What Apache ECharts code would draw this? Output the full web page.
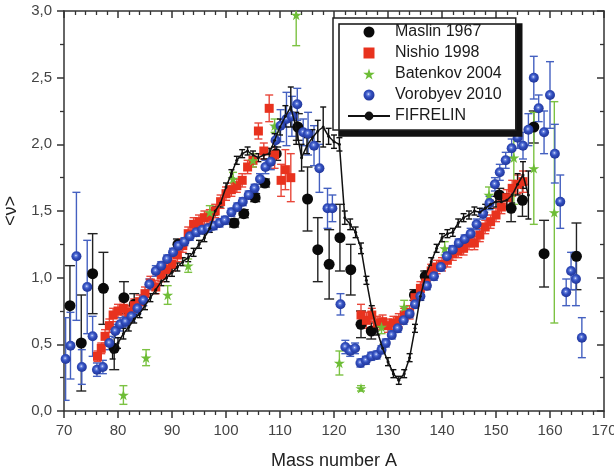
<!DOCTYPE html>
<html>
<head>
<meta charset="utf-8">
<script src="https://cdn.jsdelivr.net/npm/echarts@6/dist/echarts.min.js"></script>
<style>
  html, body { margin: 0; padding: 0; background: #fff; }
  #chart { width: 614px; height: 469px; }
</style>
</head>
<body>
<div id="chart"></div>
<script>
// each point: [mass number A, <nu>, error]
const maslin = [
  [71.1, 0.79, 0.30], [73.2, 0.51, 0.36], [75.3, 1.03, 0.30], [77.3, 0.92, 0.27],
  [79.3, 0.47, 0.16], [81.1, 0.85, 0.12], [83.0, 0.80, 0.08], [91.1, 1.25, 0.04],
  [101.5, 1.41, 0.03], [103.3, 1.48, 0.03], [105.4, 1.60, 0.03], [107.2, 1.71, 0.03],
  [109.3, 1.93, 0.05], [113.3, 2.13, 0.10], [115.1, 1.59, 0.24], [117.0, 1.21, 0.24],
  [119.1, 1.10, 0.26], [121.1, 1.30, 0.25], [123.1, 1.06, 0.19], [125.0, 0.65, 0.10],
  [126.9, 0.60, 0.06], [134.9, 0.87, 0.04], [136.9, 1.01, 0.04], [150.6, 1.62, 0.05],
  [152.8, 1.52, 0.10], [154.9, 1.58, 0.12], [157.0, 2.13, 0.12], [158.9, 1.18, 0.25],
  [164.9, 1.16, 0.25]
];
const nishio = [
  [76.2, 0.41, 0.04], [76.9, 0.47, 0.04], [77.6, 0.56, 0.05], [78.4, 0.64, 0.05],
  [79.1, 0.72, 0.05], [80.0, 0.75, 0.05], [81.0, 0.77, 0.05], [82.0, 0.74, 0.05],
  [83.0, 0.79, 0.05], [84.0, 0.82, 0.05], [85.0, 0.88, 0.05], [86.0, 0.96, 0.05],
  [87.0, 0.93, 0.05], [88.0, 1.02, 0.05], [89.0, 1.06, 0.05], [90.0, 1.10, 0.05],
  [91.0, 1.17, 0.05], [92.0, 1.24, 0.05], [93.0, 1.33, 0.05], [94.0, 1.40, 0.05],
  [95.0, 1.42, 0.05], [96.0, 1.45, 0.05], [97.0, 1.46, 0.05], [98.0, 1.50, 0.05],
  [99.0, 1.57, 0.05], [100.0, 1.63, 0.05], [101.0, 1.66, 0.05], [102.0, 1.69, 0.05],
  [103.0, 1.73, 0.05], [104.0, 1.83, 0.05], [105.0, 1.88, 0.05], [106.0, 2.10, 0.06],
  [107.0, 1.95, 0.06], [108.0, 2.27, 0.10], [109.0, 1.92, 0.10], [110.2, 1.73, 0.12],
  [111.0, 1.81, 0.15], [112.0, 1.75, 0.18],
  [125.0, 0.72, 0.08], [126.0, 0.68, 0.06], [127.0, 0.72, 0.05], [128.0, 0.66, 0.05],
  [129.0, 0.67, 0.05], [130.0, 0.64, 0.05], [131.0, 0.66, 0.05], [132.0, 0.68, 0.05],
  [133.0, 0.72, 0.05], [134.0, 0.74, 0.05], [135.0, 0.85, 0.05], [136.0, 0.92, 0.05],
  [137.0, 0.96, 0.05], [138.0, 1.05, 0.05], [139.0, 1.08, 0.05], [140.0, 1.10, 0.05],
  [141.0, 1.13, 0.05], [142.0, 1.18, 0.05], [143.0, 1.20, 0.05], [144.0, 1.22, 0.05],
  [145.0, 1.26, 0.05], [146.0, 1.26, 0.05], [147.0, 1.32, 0.05], [148.0, 1.38, 0.05],
  [149.0, 1.42, 0.05], [150.0, 1.47, 0.05], [151.0, 1.53, 0.05], [152.0, 1.60, 0.06],
  [153.0, 1.67, 0.06], [154.0, 1.70, 0.07], [155.0, 1.72, 0.08]
];
const batenkov = [
  [81.0, 0.12, 0.07], [85.2, 0.40, 0.06], [89.2, 0.87, 0.07], [93.0, 1.09, 0.05],
  [97.0, 1.49, 0.05], [101.3, 1.74, 0.05], [105.0, 1.88, 0.05], [109.0, 2.14, 0.05],
  [113.0, 2.97, 0.23], [121.0, 0.36, 0.09], [125.0, 0.17, 0.02], [128.8, 0.63, 0.05],
  [133.0, 0.78, 0.05], [140.5, 1.22, 0.05], [148.7, 1.62, 0.06], [153.3, 1.90, 0.35],
  [157.0, 1.82, 0.42], [160.8, 1.49, 0.83]
];
const vorobyev = [
  [70.3, 0.39, 0.31], [71.2, 0.49, 0.25], [72.3, 1.16, 0.48], [73.3, 0.33, 0.13],
  [74.3, 0.93, 0.35], [75.3, 0.56, 0.15], [76.1, 0.31, 0.05], [77.2, 0.33, 0.05],
  [78.4, 0.51, 0.05], [79.5, 0.60, 0.05], [80.4, 0.65, 0.05], [81.4, 0.67, 0.04],
  [82.5, 0.71, 0.04], [83.6, 0.77, 0.04], [84.7, 0.83, 0.04], [85.8, 0.95, 0.04],
  [87.0, 1.05, 0.04], [88.0, 1.09, 0.03], [89.1, 1.14, 0.03], [90.2, 1.19, 0.03],
  [91.2, 1.24, 0.03], [92.3, 1.27, 0.03], [93.3, 1.31, 0.03], [94.5, 1.34, 0.03],
  [95.6, 1.36, 0.03], [96.7, 1.37, 0.03], [97.7, 1.39, 0.03], [98.8, 1.41, 0.03],
  [99.8, 1.43, 0.03], [101.0, 1.49, 0.03], [102.1, 1.53, 0.03], [103.1, 1.57, 0.03],
  [104.2, 1.62, 0.03], [105.3, 1.67, 0.03], [106.3, 1.74, 0.04], [107.3, 1.83, 0.05],
  [108.3, 1.87, 0.06], [109.2, 2.03, 0.10], [110.1, 2.14, 0.12], [111.2, 2.19, 0.20],
  [112.2, 2.21, 0.15], [113.2, 2.30, 0.12], [114.3, 2.09, 0.10], [115.2, 2.08, 0.16],
  [116.3, 1.99, 0.15], [117.3, 1.82, 0.18], [118.8, 1.52, 0.15], [119.7, 1.52, 0.10],
  [121.2, 0.80, 0.08], [122.1, 0.48, 0.05], [123.0, 0.45, 0.04], [123.9, 0.47, 0.04],
  [124.9, 0.36, 0.03], [125.9, 0.38, 0.03], [126.9, 0.41, 0.03], [127.9, 0.42, 0.03],
  [128.8, 0.46, 0.03], [129.6, 0.51, 0.03], [130.7, 0.57, 0.03], [131.8, 0.62, 0.03],
  [132.9, 0.68, 0.03], [134.0, 0.73, 0.03], [135.0, 0.80, 0.03], [136.0, 0.86, 0.03],
  [137.2, 0.94, 0.03], [138.5, 1.01, 0.03], [139.8, 1.08, 0.03], [140.9, 1.16, 0.03],
  [142.0, 1.21, 0.03], [143.1, 1.26, 0.03], [144.2, 1.29, 0.03], [145.3, 1.33, 0.04],
  [146.4, 1.40, 0.04], [147.6, 1.48, 0.04], [148.8, 1.56, 0.05], [149.8, 1.70, 0.05],
  [150.7, 1.79, 0.06], [151.8, 1.88, 0.06], [152.9, 1.97, 0.07], [154.0, 2.05, 0.08],
  [155.0, 1.99, 0.10], [156.0, 2.11, 0.12], [157.0, 2.50, 0.16], [157.9, 2.27, 0.10],
  [158.9, 2.09, 0.16], [160.0, 2.37, 0.25], [160.9, 1.93, 0.22], [161.9, 1.57, 0.20],
  [163.0, 0.89, 0.10], [163.9, 1.05, 0.14], [164.8, 0.99, 0.20], [165.9, 0.55, 0.15]
];
const fifrelin = [
  [79, 0.44, 0.05], [80, 0.51, 0.04], [81, 0.58, 0.04], [82, 0.63, 0.03], [83, 0.69, 0.03],
  [84, 0.73, 0.03], [85, 0.79, 0.03], [86, 0.85, 0.03], [87, 0.91, 0.03], [88, 0.97, 0.03],
  [89, 1.00, 0.03], [90, 1.04, 0.03], [91, 1.08, 0.03], [92, 1.12, 0.03], [93, 1.15, 0.03],
  [94, 1.19, 0.03], [95, 1.25, 0.03], [96, 1.30, 0.03], [97, 1.37, 0.03], [98, 1.50, 0.03],
  [99, 1.56, 0.03], [100, 1.68, 0.03], [101, 1.78, 0.03], [102, 1.88, 0.03], [103, 1.93, 0.03],
  [104, 1.95, 0.03], [105, 1.92, 0.03], [106, 1.90, 0.03], [107, 1.92, 0.03], [108, 1.93, 0.04],
  [109, 2.03, 0.05], [110, 2.13, 0.06], [111, 2.21, 0.08], [112, 2.28, 0.15], [113, 2.12, 0.12],
  [114, 1.90, 0.10], [115, 1.99, 0.06], [116, 2.05, 0.06], [117, 2.10, 0.08], [118, 2.13, 0.15],
  [119, 2.06, 0.06], [120, 2.02, 0.05], [121, 2.00, 0.05], [122, 1.45, 0.05], [123, 1.40, 0.04],
  [124, 1.34, 0.04], [125, 1.22, 0.04], [126, 0.98, 0.03], [127, 0.76, 0.03], [128, 0.60, 0.03],
  [129, 0.47, 0.03], [130, 0.37, 0.03], [131, 0.28, 0.03], [132, 0.23, 0.03], [133, 0.28, 0.03],
  [134, 0.40, 0.03], [135, 0.62, 0.03], [136, 0.86, 0.03], [137, 1.02, 0.03], [138, 1.12, 0.03],
  [139, 1.22, 0.03], [140, 1.30, 0.03], [141, 1.33, 0.03], [142, 1.34, 0.03], [143, 1.41, 0.03],
  [144, 1.45, 0.03], [145, 1.47, 0.03], [146, 1.50, 0.03], [147, 1.49, 0.03], [148, 1.52, 0.03],
  [149, 1.55, 0.03], [150, 1.57, 0.04], [151, 1.57, 0.04], [152, 1.58, 0.05], [153, 1.62, 0.06],
  [154, 1.70, 0.08], [155, 1.77, 0.10], [156, 1.62, 0.18]
];
const seriesNames = ['Maslin 1967', 'Nishio 1998', 'Batenkov 2004', 'Vorobyev 2010', 'FIFRELIN'];
const xRange = [70, 170, 10];
const yRange = [0, 3, 0.5];

const FONT = 'Liberation Sans, Arial, sans-serif';
const STAR = 'path://M50,0 L61,35 L98,35 L68,57 L79,91 L50,70 L21,91 L32,57 L2,35 L39,35 Z';
const SQUARE = 'path://M0,0 L10,0 L10,10 L0,10 Z';

const chart = echarts.init(document.getElementById('chart'));

// vertical error bar with caps, drawn in data coordinates
function errorBars(color, cap, width) {
  return function (params, api) {
    const x = api.value(0), y = api.value(1), e = api.value(2);
    const hi = api.coord([x, y + e]);
    const lo = api.coord([x, y - e]);
    const st = { stroke: color, lineWidth: width };
    return {
      type: 'group',
      children: [
        { type: 'line', shape: { x1: hi[0], y1: hi[1], x2: lo[0], y2: lo[1] }, style: st },
        { type: 'line', shape: { x1: hi[0] - cap, y1: hi[1], x2: hi[0] + cap, y2: hi[1] }, style: st },
        { type: 'line', shape: { x1: lo[0] - cap, y1: lo[1], x2: lo[0] + cap, y2: lo[1] }, style: st }
      ]
    };
  };
}
function errSeries(data, color, cap) {
  return {
    type: 'custom', data: data, renderItem: errorBars(color, cap || 4, 1.4),
    encode: { x: 0, y: 1 }, silent: true, clip: true
  };
}

const blueBall = new echarts.graphic.RadialGradient(0.45, 0.42, 0.6, [
  { offset: 0, color: '#eef2ff' },
  { offset: 0.18, color: '#6f88e0' },
  { offset: 0.45, color: '#3350c0' },
  { offset: 1, color: '#1f3396' }
]);

const axisCommon = {
  type: 'value',
  axisLine: { show: true, onZero: false, lineStyle: { color: '#333', width: 1.5 } },
  splitLine: { show: false }
};

const option = {
  animation: false,
  backgroundColor: '#fff',
  grid: { left: 64, right: 10, top: 11, bottom: 58, containLabel: false, outerBoundsMode: 'none' },
  legend: {
    orient: 'vertical', left: 333, top: 18,
    data: seriesNames,
    itemWidth: 42, itemHeight: 11, itemGap: 5,
    padding: [6, 14, 6, 14],
    backgroundColor: '#fff', borderColor: '#222', borderWidth: 1.5, borderRadius: 0,
    shadowColor: '#111', shadowOffsetX: 6, shadowOffsetY: 6, shadowBlur: 0,
    textStyle: { fontFamily: FONT, fontSize: 16, color: '#1a1a1a' }
  },
  xAxis: [
    Object.assign({}, axisCommon, {
      min: xRange[0], max: xRange[1], interval: xRange[2], position: 'bottom',
      axisTick: { show: true, inside: false, length: 7, lineStyle: { color: '#333', width: 1.5 } },
      minorTick: { show: true, splitNumber: 5, length: 4, lineStyle: { color: '#333', width: 1.3 } },
      axisLabel: { fontFamily: FONT, fontSize: 15, color: '#444', margin: 12 },
      name: 'Mass number A', nameLocation: 'middle', nameGap: 41,
      nameTextStyle: { fontFamily: FONT, fontSize: 18, color: '#222' }
    }),
    Object.assign({}, axisCommon, {
      min: xRange[0], max: xRange[1], interval: xRange[2], position: 'top',
      axisTick: { show: true, inside: true, length: 7, lineStyle: { color: '#333', width: 1.5 } },
      minorTick: { show: true, splitNumber: 5, length: 4, lineStyle: { color: '#333', width: 1.3 } },
      axisLabel: { show: false }
    })
  ],
  yAxis: [
    Object.assign({}, axisCommon, {
      min: yRange[0], max: yRange[1], interval: yRange[2], position: 'left',
      axisTick: { show: true, inside: false, length: 7, lineStyle: { color: '#333', width: 1.5 } },
      minorTick: { show: true, splitNumber: 2, length: 4, lineStyle: { color: '#333', width: 1.3 } },
      axisLabel: {
        fontFamily: FONT, fontSize: 15, color: '#444', margin: 12,
        formatter: v => v.toFixed(1).replace('.', ',')
      },
      name: '<ν>', nameLocation: 'middle', nameGap: 44,
      nameTextStyle: { fontFamily: FONT, fontSize: 18, color: '#222' }
    }),
    Object.assign({}, axisCommon, {
      min: yRange[0], max: yRange[1], interval: yRange[2], position: 'right',
      axisTick: { show: true, inside: true, length: 7, lineStyle: { color: '#333', width: 1.5 } },
      minorTick: { show: true, splitNumber: 2, length: 4, lineStyle: { color: '#333', width: 1.3 } },
      axisLabel: { show: false }
    })
  ],
  series: [
    errSeries(maslin, '#222', 5),
    {
      name: seriesNames[0], type: 'scatter', data: maslin, encode: { x: 0, y: 1 },
      symbol: 'circle', symbolSize: 11, itemStyle: { color: '#0a0a0a', opacity: 1 }
    },
    errSeries(nishio, '#e8473a', 4),
    {
      name: seriesNames[1], type: 'scatter', data: nishio, encode: { x: 0, y: 1 },
      symbol: SQUARE, symbolSize: 9, symbolKeepAspect: true,
      itemStyle: { color: '#e8321e', opacity: 1 }
    },
    errSeries(batenkov, '#7cc242', 4),
    {
      name: seriesNames[2], type: 'scatter', data: batenkov, encode: { x: 0, y: 1 },
      symbol: STAR, symbolSize: 11, symbolKeepAspect: true,
      itemStyle: { color: '#6dbd36', opacity: 1 }
    },
    errSeries(vorobyev, '#4460c0', 4),
    {
      name: seriesNames[3], type: 'scatter', data: vorobyev, encode: { x: 0, y: 1 },
      symbol: 'circle', symbolSize: 10, itemStyle: { color: blueBall, opacity: 1 }
    },
    errSeries(fifrelin, '#111', 3),
    {
      name: seriesNames[4], type: 'line', data: fifrelin, encode: { x: 0, y: 1 },
      symbol: 'circle', symbolSize: 3, showSymbol: true,
      lineStyle: { color: '#111', width: 1.5 }, itemStyle: { color: '#111' }
    }
  ]
};

chart.setOption(option);
</script>
</body>
</html>
